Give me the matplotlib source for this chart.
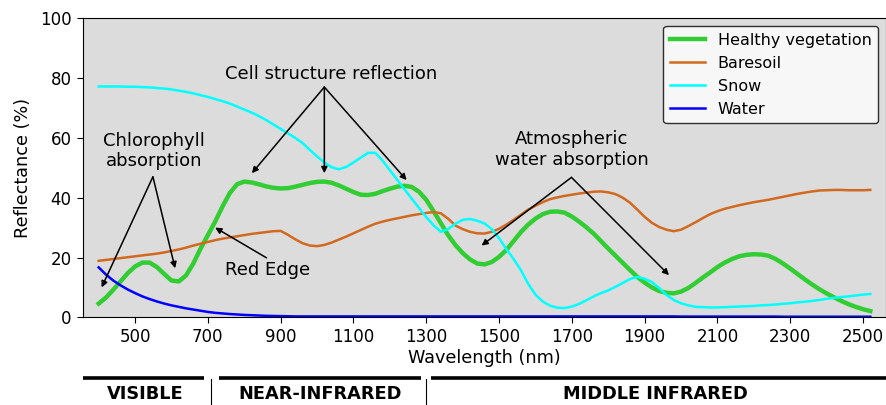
import matplotlib
matplotlib.use("Agg")
import matplotlib.pyplot as plt

wavelength = [400, 420, 440, 460, 480, 500, 520, 540, 560, 580,
              600, 620, 640, 660, 680, 700, 720, 740, 760, 780,
              800, 820, 840, 860, 880, 900, 920, 940, 960, 980,
              1000, 1020, 1040, 1060, 1080, 1100, 1120, 1140, 1160, 1180,
              1200, 1220, 1240, 1260, 1280, 1300, 1320, 1340, 1360, 1380,
              1400, 1420, 1440, 1460, 1480, 1500, 1520, 1540, 1560, 1580,
              1600, 1620, 1640, 1660, 1680, 1700, 1720, 1740, 1760, 1780,
              1800, 1820, 1840, 1860, 1880, 1900, 1920, 1940, 1960, 1980,
              2000, 2020, 2040, 2060, 2080, 2100, 2120, 2140, 2160, 2180,
              2200, 2220, 2240, 2260, 2280, 2300, 2320, 2340, 2360, 2380,
              2400, 2420, 2440, 2460, 2480, 2500, 2520]

vegetation = [4.6, 6.6, 9.2, 12.0, 14.8, 17.0, 18.3, 18.3, 16.8, 14.5,
              12.3, 12.0, 14.0, 18.0, 23.0, 27.5, 32.0, 37.0, 41.5, 44.5,
              45.4, 45.1, 44.5, 43.8, 43.3, 43.1, 43.2, 43.7, 44.3, 44.9,
              45.3, 45.4, 45.0, 44.1, 43.0, 41.9, 41.0, 40.9, 41.3, 42.2,
              43.0, 43.7, 44.0, 43.6, 42.0, 39.3, 35.5, 31.5, 27.5, 24.2,
              21.5, 19.4, 18.0, 17.7, 18.5, 20.2, 22.5, 25.5, 28.5, 31.0,
              33.0, 34.5, 35.3, 35.4, 35.0, 33.7, 32.0, 30.1, 28.0, 25.5,
              23.0, 20.6, 18.2, 15.8, 13.5, 11.6, 10.0, 8.8, 8.2, 8.0,
              8.6, 9.8, 11.5, 13.3, 15.0, 16.8, 18.3, 19.5, 20.4, 20.9,
              21.1, 21.0, 20.6, 19.5, 18.0, 16.3, 14.5, 12.7, 11.0, 9.4,
              8.0, 6.7, 5.5, 4.4, 3.5, 2.7, 2.1]

baresoil = [18.9, 19.2, 19.5, 19.8, 20.1, 20.4, 20.7, 21.0, 21.3, 21.7,
            22.2, 22.7, 23.3, 24.0, 24.6, 25.2, 25.8, 26.3, 26.7, 27.1,
            27.5, 27.9, 28.2, 28.5, 28.8, 28.9, 27.6, 26.1, 24.8, 24.0,
            23.8, 24.2, 25.0, 26.0, 27.0, 28.1, 29.2, 30.3, 31.3, 32.0,
            32.6, 33.1, 33.6, 34.1, 34.5, 34.9, 35.2, 34.8, 33.0, 30.7,
            29.5, 28.6, 28.1, 28.0, 28.6, 29.6, 31.0, 32.6, 34.3, 36.0,
            37.3, 38.5, 39.5, 40.1, 40.6, 41.0, 41.4, 41.7, 42.0, 42.1,
            41.8, 41.2, 40.0, 38.3, 36.0, 33.6, 31.6, 30.2, 29.3, 28.8,
            29.3, 30.5, 31.8, 33.2, 34.5, 35.5, 36.3, 36.9, 37.5, 38.0,
            38.5, 38.9, 39.3, 39.8, 40.3, 40.8, 41.3, 41.7, 42.1, 42.4,
            42.5, 42.6, 42.6, 42.5, 42.5, 42.5, 42.6]

snow = [77.2, 77.2, 77.2, 77.2, 77.1, 77.1, 77.0, 76.9, 76.7, 76.5,
        76.2, 75.8, 75.4, 74.9, 74.3, 73.7, 73.0, 72.3, 71.5, 70.5,
        69.5, 68.5, 67.3, 66.0, 64.5, 63.0, 61.5, 60.0, 58.3, 56.0,
        53.8, 51.8, 50.2, 49.5, 50.3, 51.8, 53.4, 55.0, 55.0, 52.4,
        49.2, 46.0, 42.8, 39.7, 36.6, 33.5, 30.8, 28.6, 29.5, 31.3,
        32.6, 32.9, 32.3, 31.4, 29.5, 26.5, 22.8, 19.5, 15.8, 11.2,
        7.6, 5.3, 3.9, 3.2, 3.1, 3.6, 4.5, 5.7, 7.0, 8.1,
        9.0, 10.2, 11.5, 12.8, 13.5, 12.9, 11.8, 9.8, 7.5, 5.8,
        4.7, 4.0, 3.5, 3.4, 3.3, 3.3, 3.4, 3.5, 3.6, 3.7,
        3.8, 4.0, 4.1, 4.3, 4.5, 4.7, 5.0, 5.2, 5.5, 5.8,
        6.2, 6.5, 6.8, 7.0, 7.3, 7.6, 7.8]

water = [16.7, 14.3, 12.3, 10.7, 9.3, 8.1, 7.0, 6.1, 5.3, 4.6,
         4.0, 3.5, 3.0, 2.6, 2.2, 1.8, 1.5, 1.3, 1.1, 0.95,
         0.8, 0.7, 0.6, 0.5, 0.45, 0.4, 0.35, 0.3, 0.3, 0.3,
         0.3, 0.3, 0.3, 0.3, 0.3, 0.3, 0.3, 0.3, 0.3, 0.3,
         0.3, 0.3, 0.3, 0.3, 0.3, 0.3, 0.3, 0.3, 0.3, 0.3,
         0.3, 0.3, 0.3, 0.3, 0.3, 0.3, 0.3, 0.3, 0.3, 0.3,
         0.3, 0.3, 0.3, 0.3, 0.3, 0.3, 0.3, 0.3, 0.3, 0.3,
         0.3, 0.3, 0.3, 0.3, 0.3, 0.3, 0.3, 0.3, 0.3, 0.3,
         0.25, 0.25, 0.25, 0.25, 0.25, 0.25, 0.25, 0.25, 0.25, 0.25,
         0.25, 0.25, 0.25, 0.25, 0.2, 0.2, 0.2, 0.2, 0.2, 0.2,
         0.2, 0.2, 0.2, 0.2, 0.2, 0.2, 0.2]

series_labels = ["Healthy vegetation", "Baresoil", "Snow", "Water"]
xticks = [500, 700, 900, 1100, 1300, 1500, 1700, 1900, 2100, 2300, 2500]
yticks = [0, 20, 40, 60, 80, 100]
bands = ["VISIBLE", "NEAR-INFRARED", "MIDDLE INFRARED"]

fig = plt.figure(figsize=(8.87, 4.05), dpi=100)
ax = fig.add_axes([0.0932, 0.2165, 0.9056, 0.7383])
ax.set_facecolor("gainsboro")

ax.plot(wavelength, vegetation, color="limegreen", lw=3.2,
        solid_joinstyle="round", label=series_labels[0])
ax.plot(wavelength, baresoil, color="chocolate", lw=1.8,
        solid_joinstyle="round", label=series_labels[1])
ax.plot(wavelength, snow, color="cyan", lw=1.8,
        solid_joinstyle="round", label=series_labels[2])
ax.plot(wavelength, water, color="blue", lw=1.8,
        solid_joinstyle="round", label=series_labels[3])

ax.set_xlim(356, 2563)
ax.set_ylim(0, 100)
ax.set_xticks(xticks)
ax.set_yticks(yticks)
ax.tick_params(labelsize=12, length=4.5)
ax.set_xlabel("Wavelength (nm)", fontsize=12.7, labelpad=2)
ax.set_ylabel("Reflectance (%)", fontsize=12.7, labelpad=6)

ax.legend(loc="upper right", fontsize=11.5, edgecolor="black",
          fancybox=True, handlelength=2.2)

arrow_kw = dict(arrowstyle="-|>", color="black", lw=1.1, mutation_scale=9,
                shrinkA=0, shrinkB=0)
afs = 13

# Chlorophyll absorption
ax.text(553, 55.6, "Chlorophyll\nabsorption", ha="center", va="center", fontsize=afs)
for tgt in [(408, 10.0), (610, 16.4)]:
    ax.annotate("", xy=tgt, xytext=(549, 47), arrowprops=arrow_kw)

# Cell structure reflection
ax.text(1038, 81.5, "Cell structure reflection", ha="center", va="center", fontsize=afs)
for tgt in [(821, 48.2), (1020, 48.2), (1246, 45.9)]:
    ax.annotate("", xy=tgt, xytext=(1020, 77), arrowprops=arrow_kw)

# Red edge
ax.text(865, 15.8, "Red Edge", ha="center", va="center", fontsize=afs)
ax.annotate("", xy=(720, 30.0), xytext=(861, 19.9), arrowprops=arrow_kw)

# Atmospheric water absorption
ax.text(1700, 56, "Atmospheric\nwater absorption", ha="center", va="center", fontsize=afs)
for tgt in [(1452, 24.0), (1967, 14.1)]:
    ax.annotate("", xy=tgt, xytext=(1699, 46.8), arrowprops=arrow_kw)

# Spectral bands below the axis
band_spans = [(0.0, 0.151), (0.170, 0.421), (0.4335, 1.006)]
band_centers = [0.0776, 0.2954, 0.7124]
for (x0, x1), cx, name in zip(band_spans, band_centers, bands):
    ax.plot([x0, x1], [-0.202, -0.202], color="black", lw=2.6,
            transform=ax.transAxes, clip_on=False, solid_capstyle="butt")
    ax.text(cx, -0.255, name, transform=ax.transAxes, ha="center", va="center",
            fontsize=12.8, fontweight="bold")
for sx in [0.160, 0.428]:
    ax.plot([sx, sx], [-0.205, -0.30], color="black", lw=0.8,
            transform=ax.transAxes, clip_on=False)

fig.savefig("out.png", dpi=100)
